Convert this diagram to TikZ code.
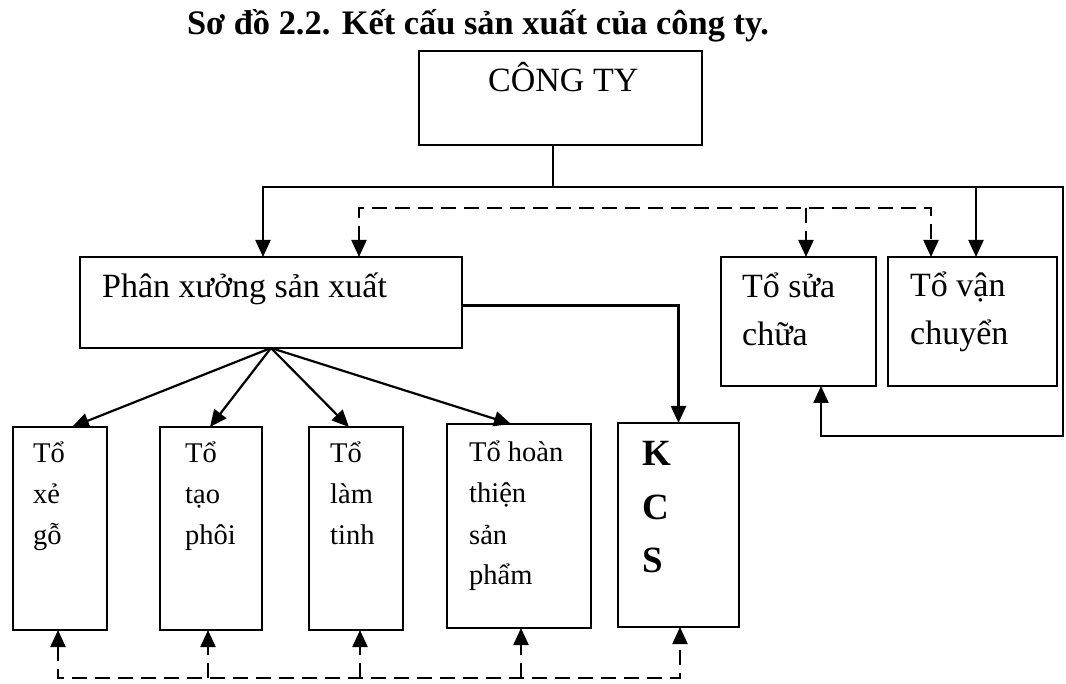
\documentclass[tikz,border=0pt]{standalone}
\usepackage{fontspec}
\setmainfont{Liberation Serif}
\usetikzlibrary{arrows.meta}

\tikzset{
  box/.style={draw, line width=2.2pt, inner sep=0pt, outer sep=0pt, anchor=north west},
  conn/.style={line width=2.2pt},
  tri/.tip={Triangle[length=17pt,width=15pt]},
  tip/.style={-tri},
  dsh/.style={line width=2.2pt, dash pattern=on 15pt off 8pt},
  big/.style={anchor=base west, inner sep=0pt, font=\fontsize{34}{48}\selectfont},
  small/.style={anchor=base west, inner sep=0pt, font=\fontsize{28.5}{41}\selectfont},
  kcsfont/.style={anchor=base west, inner sep=0pt, font=\bfseries\fontsize{37}{53.5}\selectfont},
}
% draws a box from its top-left corner with the given width and height
\newcommand{\boxat}[5]{\node[box, minimum width=#4pt, minimum height=#5pt] (#1) at (#2,#3) {};}
\newcommand{\lines}[1]{\parbox[t]{6cm}{\raggedright #1}}

\begin{document}
\begin{tikzpicture}[x=1pt, y=-1pt]
\useasboundingbox (0,0) rectangle (1066,684);

% heading
\node[anchor=base, inner sep=0pt, font=\bfseries\fontsize{34.4}{40}\selectfont] (title) at (478,35)
  {Sơ đồ 2.2. Kết cấu sản xuất của công ty.};

% boxes
\boxat{cty}{419}{51}{283}{94}
\boxat{px}{80}{257}{382}{91}
\boxat{sc}{721}{257}{155}{129}
\boxat{vc}{888}{257}{169}{129}
\boxat{xg}{13}{427}{94}{203}
\boxat{tp}{160}{427}{102}{203}
\boxat{lt}{309}{427}{94}{203}
\boxat{ht}{447}{424}{144}{204}
\boxat{kcs}{618}{423}{121}{204}

% box texts
\node[big] (cty-t) at (488,92) {CÔNG TY};
\node[big] (px-t) at (102,298) {Phân xưởng sản xuất};
\node[big] (sc-t) at (742,298) {\lines{Tổ sửa\\chữa}};
\node[big] (vc-t) at (910,297) {\lines{Tổ vận\\chuyển}};
\node[small] (xg-t) at (33,463) {\lines{Tổ\\xẻ\\gỗ}};
\node[small] (tp-t) at (185,463) {\lines{Tổ\\tạo\\phôi}};
\node[small] (lt-t) at (330,463) {\lines{Tổ\\làm\\tinh}};
\node[small] (ht-t) at (469,462) {\lines{Tổ hoàn\\thiện\\sản\\phẩm}};
\node[kcsfont] (kcs-t) at (642,466) {\lines{K\\C\\S}};

% connector junctions
\coordinate (bus) at (553,187);
\coordinate (busL) at (263,187);
\coordinate (busV) at (976,187);
\coordinate (busR) at (1063,187);
\coordinate (loop) at (1063,436);
\coordinate (dL) at (359,208);
\coordinate (dS) at (806,208);
\coordinate (dR) at (931,208);
\coordinate (bot) at (0,678);

% solid lines from the company
\draw[conn] (cty.south -| bus) -- (bus);
\draw[conn, tip] (busR) -- (busL) -- (busL |- px.north);
\draw[conn, tip] (busV) -- (busV |- vc.north);
\draw[conn, tip] (bus) -- (busR) -- (loop) -| ([xshift=22.5pt]sc.south);

% dashed links on top
\draw[dsh, tri-tri] (dL |- px.north) -- (dL) -- (dR) -- (dR |- vc.north);
\draw[dsh, tip] (dS) -- (dS |- sc.north);

% workshop to KCS
\draw[conn, tip] ([yshift=-3pt]px.east) -| (kcs.north);

% workshop to the teams
\draw[conn, tip] (px.south) -- ([xshift=12pt]xg.north);
\draw[conn, tip] (px.south) -- ([xshift=-1pt]tp.north);
\draw[conn, tip] (px.south) -- ([xshift=-7pt]lt.north);
\draw[conn, tip] (px.south) -- ([xshift=-8pt]ht.north);

% dashed links below
\draw[dsh, tri-tri]
  ([xshift=-2pt]xg.south) -- ([xshift=-2pt]xg.south |- bot) -- ([xshift=1.5pt]kcs.south |- bot) -- ([xshift=1.5pt]kcs.south);
\draw[dsh, tip] ([xshift=-3pt]tp.south |- bot) -- ([xshift=-3pt]tp.south);
\draw[dsh, tip] ([xshift=4pt]lt.south |- bot) -- ([xshift=4pt]lt.south);
\draw[dsh, tip] ([xshift=2pt]ht.south |- bot) -- ([xshift=2pt]ht.south);
\end{tikzpicture}
\end{document}
